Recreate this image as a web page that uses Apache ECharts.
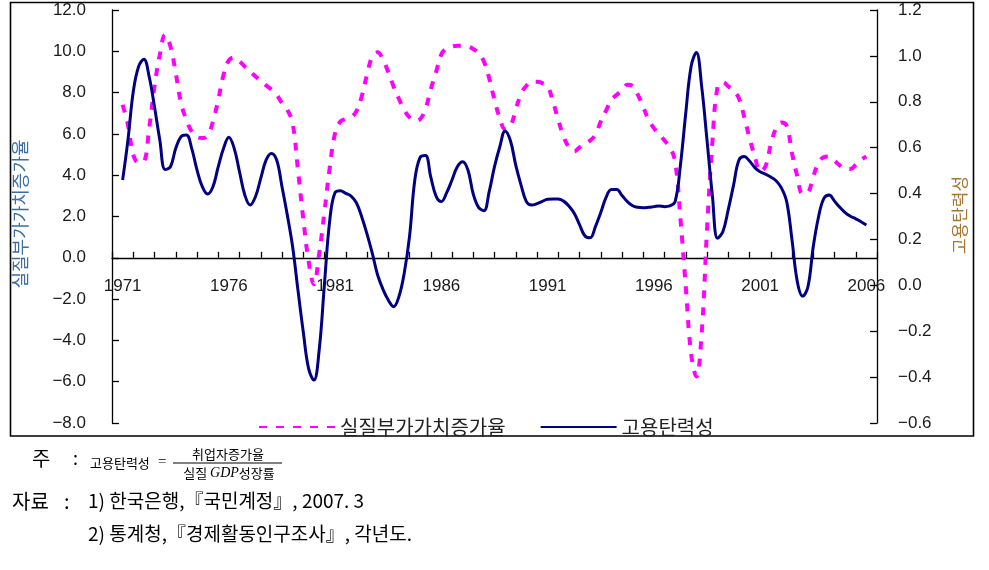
<!DOCTYPE html>
<html>
<head>
<meta charset="utf-8">
<script src="https://cdn.jsdelivr.net/npm/echarts@6/dist/echarts.min.js"></script>
<style>
  html, body { margin: 0; padding: 0; background: #fff; }
  #chart { width: 989px; height: 570px; }
</style>
</head>
<body>
<div id="chart"></div>
<script>
// ---- Data ----
// Quarterly category axis (1970Q3 .. 2006Q3); data runs 1971Q1 .. 2006Q1
const quarterCategories = [];
for (let y = 1970; y <= 2006; y++) {
  for (let q = 1; q <= 4; q++) {
    if ((y === 1970 && q < 3) || (y === 2006 && q > 3)) continue;
    quarterCategories.push(y + 'Q' + q);
  }
}
const dataQuarters = quarterCategories.slice(2, 143); // 1971Q1 .. 2006Q1 (141)
const yearLabels = ['1971', '1976', '1981', '1986', '1991', '1996', '2001', '2006'];

const seriesNames = ['실질부가가치증가율', '고용탄력성'];

// 실질부가가치증가율 (%), left axis
const valueAddedGrowth = [
  7.41, 6.44, 4.99, 4.62, 4.66, 6.28, 8.30, 9.83, 10.80, 10.23,
  8.95, 7.49, 6.68, 6.12, 5.84, 5.80, 5.92, 6.60, 7.65, 8.86,
  9.56, 9.70, 9.51, 9.26, 9.02, 8.78, 8.57, 8.35, 8.15, 7.89,
  7.49, 7.17, 6.52, 4.26, 1.90, -0.15, -1.28, 0.20, 2.24, 4.40,
  6.04, 6.60, 6.72, 6.81, 7.09, 7.81, 8.86, 9.75, 9.95, 9.60,
  9.00, 8.30, 7.70, 7.17, 6.80, 6.65, 6.72, 7.20, 8.15, 9.00,
  9.85, 10.15, 10.23, 10.27, 10.27, 10.23, 10.11, 9.91, 9.51, 8.70,
  7.65, 6.76, 6.23, 6.39, 7.17, 7.94, 8.33, 8.52, 8.52, 8.46,
  8.30, 7.57, 6.68, 5.88, 5.36, 5.15, 5.35, 5.52, 5.68, 5.96,
  6.60, 7.13, 7.65, 7.89, 8.10, 8.38, 8.33, 7.89, 7.30, 6.68,
  6.28, 5.99, 5.68, 5.36, 4.66, 1.90, -1.39, -4.62, -5.75, -3.65,
  1.36, 5.55, 8.30, 8.50, 8.30, 8.10, 7.73, 6.84, 5.80, 4.91,
  4.18, 4.42, 5.47, 6.28, 6.55, 6.39, 5.07, 3.94, 3.10, 3.16,
  3.94, 4.59, 4.88, 4.91, 4.71, 4.47, 4.31, 4.30, 4.50, 4.75, 4.91
];

// 고용탄력성, right axis
const employmentElasticity = [
  0.459, 0.633, 0.844, 0.953, 0.985, 0.909, 0.778, 0.633, 0.505, 0.517,
  0.597, 0.648, 0.655, 0.597, 0.503, 0.430, 0.398, 0.430, 0.517, 0.597,
  0.645, 0.597, 0.495, 0.394, 0.350, 0.386, 0.466, 0.546, 0.575, 0.546,
  0.430, 0.306, 0.168, -0.020, -0.202, -0.362, -0.413, -0.282, 0.009, 0.285,
  0.405, 0.412, 0.401, 0.389, 0.360, 0.299, 0.224, 0.139, 0.045, -0.017,
  -0.064, -0.093, -0.050, 0.052, 0.212, 0.459, 0.558, 0.566, 0.473, 0.389,
  0.365, 0.404, 0.459, 0.517, 0.539, 0.503, 0.398, 0.340, 0.325, 0.408,
  0.517, 0.604, 0.673, 0.630, 0.524, 0.437, 0.365, 0.350, 0.356, 0.366,
  0.375, 0.376, 0.376, 0.367, 0.346, 0.314, 0.265, 0.216, 0.207, 0.256,
  0.317, 0.383, 0.418, 0.418, 0.392, 0.365, 0.347, 0.340, 0.338, 0.340,
  0.343, 0.346, 0.343, 0.346, 0.365, 0.524, 0.750, 0.953, 1.015, 0.866,
  0.633, 0.394, 0.205, 0.235, 0.330, 0.437, 0.545, 0.561, 0.542, 0.513,
  0.495, 0.485, 0.472, 0.456, 0.425, 0.365, 0.198, 0.016, -0.047, -0.006,
  0.168, 0.299, 0.379, 0.394, 0.367, 0.340, 0.317, 0.301, 0.290, 0.277, 0.263
];

const leftAxis = { min: -8, max: 12, interval: 2 };
const rightAxis = { min: -0.6, max: 1.2, interval: 0.2 };

// ---- Chart ----
const chart = echarts.init(document.getElementById('chart'), null, { renderer: 'canvas' });
const tickFont = { fontFamily: 'Liberation Sans', fontSize: 17, color: '#1a1a1a' };
const fmt = v => (v < 0 ? '\u2212' : '') + Math.abs(v).toFixed(1);
const korFont = 'Noto Sans CJK KR';

const gridTop = 10, gridBottom = 147, chartH = 570;
const plotH = chartH - gridTop - gridBottom;
// place x axis line at left-axis zero
const zeroOffset = -plotH * (0 - leftAxis.min) / (leftAxis.max - leftAxis.min);

const option = {
  animation: false,
  backgroundColor: '#fff',
  grid: { left: 112, right: 112, top: gridTop, bottom: gridBottom, containLabel: false },
  legend: {
    data: seriesNames,
    left: 253,
    top: 412,
    itemWidth: 76,
    itemHeight: 14,
    itemGap: 34,
    itemStyle: { opacity: 0 },
    textStyle: { fontFamily: korFont, fontSize: 20, color: '#222' }
  },
  xAxis: {
    type: 'category',
    data: quarterCategories,
    boundaryGap: false,
    position: 'bottom',
    offset: zeroOffset,
    axisLine: { onZero: false, lineStyle: { color: '#000', width: 1.3 } },
    axisTick: { show: true, inside: true, length: 6, interval: 3, lineStyle: { color: '#000', width: 1.3 } },
    axisLabel: {
      interval: (index, value) => value.endsWith('Q1') && yearLabels.includes(value.slice(0, 4)),
      formatter: value => value.slice(0, 4),
      margin: 20,
      ...tickFont
    },
    splitLine: { show: false }
  },
  yAxis: [
    {
      type: 'value',
      position: 'left',
      min: leftAxis.min, max: leftAxis.max, interval: leftAxis.interval,
      axisLine: { show: true, onZero: false, lineStyle: { color: '#000', width: 1.3 } },
      axisTick: { show: true, inside: true, length: 7, lineStyle: { color: '#000', width: 1.3 } },
      axisLabel: { formatter: fmt, margin: 26, ...tickFont },
      splitLine: { show: false }
    },
    {
      type: 'value',
      position: 'right',
      min: rightAxis.min, max: rightAxis.max, interval: rightAxis.interval,
      axisLine: { show: true, onZero: false, lineStyle: { color: '#000', width: 1.3 } },
      axisTick: { show: true, inside: true, length: 7, lineStyle: { color: '#000', width: 1.3 } },
      axisLabel: { formatter: fmt, margin: 21, ...tickFont },
      splitLine: { show: false }
    }
  ],
  series: [
    {
      name: seriesNames[0],
      type: 'line',
      yAxisIndex: 0,
      smooth: 0.4,
      symbol: 'none',
      color: '#ff00ff',
      lineStyle: { color: '#ff00ff', width: 4, type: [8, 9] },
      data: dataQuarters.map((c, i) => [c, valueAddedGrowth[i]])
    },
    {
      name: seriesNames[1],
      type: 'line',
      yAxisIndex: 1,
      smooth: 0.4,
      symbol: 'none',
      color: '#000080',
      lineStyle: { color: '#000080', width: 3 },
      data: dataQuarters.map((c, i) => [c, employmentElasticity[i]])
    }
  ],
  graphic: [
    { type: 'rect', shape: { x: 10.5, y: 2.5, width: 963, height: 433.5 },
      style: { fill: 'none', stroke: '#000', lineWidth: 1.6 }, silent: true },
    { type: 'text', x: 20, y: 214, rotation: Math.PI / 2,
      style: { text: '실질부가가치증가율', font: '18px "Noto Sans CJK KR"', fill: '#3a6ea5', align: 'center', verticalAlign: 'middle' } },
    { type: 'text', x: 960, y: 215, rotation: Math.PI / 2,
      style: { text: '고용탄력성', font: '17px "Noto Sans CJK KR"', fill: '#a8742e', align: 'center', verticalAlign: 'middle' } },
    // footnote
    { type: 'text', x: 32, y: 458, style: { text: '주', font: '20px "Noto Sans CJK KR"', fill: '#000', verticalAlign: 'middle' } },
    { type: 'text', x: 73, y: 458, style: { text: ':', font: '18px "Noto Sans CJK KR"', fill: '#000', verticalAlign: 'middle' } },
    { type: 'text', x: 90, y: 463, style: { text: '고용탄력성', font: '13px "Noto Sans CJK KR"', fill: '#000', verticalAlign: 'middle' } },
    { type: 'text', x: 158, y: 462, style: { text: '=', font: '15px "Liberation Serif"', fill: '#000', verticalAlign: 'middle' } },
    { type: 'text', x: 228, y: 454, style: { text: '취업자증가율', font: '13px "Noto Sans CJK KR"', fill: '#000', align: 'center', verticalAlign: 'middle' } },
    { type: 'line', shape: { x1: 173, y1: 463, x2: 282, y2: 463 }, style: { stroke: '#000', lineWidth: 1 } },
    { type: 'text', x: 229, y: 473, style: {
        text: '{a|실질 }{i|GDP}{a|성장률}', align: 'center', verticalAlign: 'middle',
        rich: {
          a: { fontFamily: korFont, fontSize: 13, fill: '#000' },
          i: { fontFamily: 'Liberation Serif', fontStyle: 'italic', fontSize: 14, fill: '#000' }
        } } },
    { type: 'text', x: 12, y: 501, style: { text: '자료', font: '20px "Noto Sans CJK KR"', fill: '#000', verticalAlign: 'middle' } },
    { type: 'text', x: 64, y: 501, style: { text: ':', font: '20px "Noto Sans CJK KR"', fill: '#000', verticalAlign: 'middle' } },
    { type: 'text', x: 88, y: 501, style: { text: '1) 한국은행,『국민계정』, 2007. 3', font: '19px "Noto Sans CJK KR"', fill: '#000', verticalAlign: 'middle' } },
    { type: 'text', x: 88, y: 534, style: { text: '2) 통계청,『경제활동인구조사』, 각년도.', font: '19px "Noto Sans CJK KR"', fill: '#000', verticalAlign: 'middle' } }
  ]
};
chart.setOption(option);
</script>
</body>
</html>
